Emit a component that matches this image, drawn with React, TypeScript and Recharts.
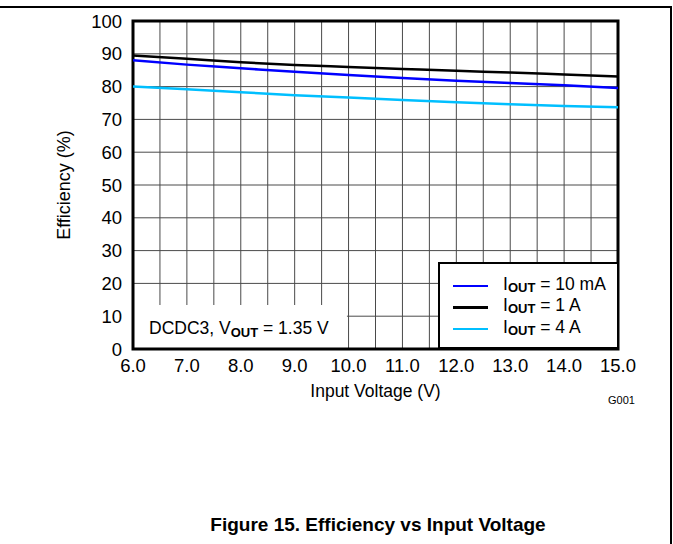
import React from 'react';
import { LineChart, Line, XAxis, YAxis, CartesianGrid, Legend, ReferenceArea } from 'recharts';

const voltages = [6, 7, 8, 9, 10, 11, 12, 13, 14, 15];
const eff10mA = [88.0, 86.7, 85.6, 84.5, 83.5, 82.6, 81.8, 81.1, 80.4, 79.6];
const eff1A = [89.5, 88.5, 87.4, 86.6, 86.0, 85.4, 84.8, 84.3, 83.7, 83.1];
const eff4A = [80.0, 79.2, 78.3, 77.4, 76.7, 75.9, 75.2, 74.6, 74.1, 73.7];

const xTicks = [6, 6.5, 7, 7.5, 8, 8.5, 9, 9.5, 10, 10.5, 11, 11.5, 12, 12.5, 13, 13.5, 14, 14.5, 15];
const yTicks = [0, 10, 20, 30, 40, 50, 60, 70, 80, 90, 100];

const seriesInfo = [
  { key: 'i10mA', value: '10 mA', color: '#0000ff' },
  { key: 'i1A', value: '1 A', color: '#000000' },
  { key: 'i4A', value: '4 A', color: '#00bfff' },
];

const data = voltages.map((v, i) => ({ v, i10mA: eff10mA[i], i1A: eff1A[i], i4A: eff4A[i] }));

const FONT = 'Arial, "Liberation Sans", sans-serif';

function LegendBox() {
  return (
    <div
      style={{
        width: 181,
        height: 87,
        boxSizing: 'border-box',
        border: '2px solid #000',
        background: '#fff',
        fontFamily: FONT,
        fontSize: 17.5,
        paddingTop: 11,
      }}
    >
      {seriesInfo.map((s) => (
        <div key={s.key} style={{ display: 'flex', alignItems: 'center', height: 21.5 }}>
          <div style={{ marginLeft: 13, width: 35, height: 2.5, background: s.color }} />
          <span style={{ marginLeft: 15, color: '#000', whiteSpace: 'nowrap', lineHeight: '20px' }}>
            I<sub style={{ fontSize: 13, fontWeight: 'bold', verticalAlign: -2 }}>OUT</sub> = {s.value}
          </span>
        </div>
      ))}
    </div>
  );
}

function NoteLabel(props: any) {
  const vb = props.viewBox || {};
  return (
    <text x={vb.x + 16} y={vb.y + vb.height - 15} fontFamily={FONT} fontSize={17.5} fill="#000">
      DCDC3, V
      <tspan fontSize={13} fontWeight="bold" dy={3}>OUT</tspan>
      <tspan dy={-3}> = 1.35 V</tspan>
    </text>
  );
}

export default function App() {
  return (
    <div style={{ position: 'absolute', left: 0, top: 0, width: 673, height: 544, overflow: 'hidden', background: '#fff' }}>
      <div
        style={{
          position: 'absolute',
          left: 0,
          top: 6,
          width: 672,
          height: 538,
          boxSizing: 'border-box',
          borderTop: '2px solid #000',
          borderRight: '2px solid #000',
        }}
      />
      <LineChart width={673} height={544} data={data} margin={{ top: 21, right: 55, left: 0, bottom: 0 }}>
        <CartesianGrid stroke="#4a4a4a" strokeWidth={1} />
        <XAxis
          dataKey="v"
          type="number"
          domain={[6, 15]}
          ticks={xTicks}
          interval={0}
          height={195}
          tickLine={false}
          axisLine={false}
          tickMargin={4}
          tickFormatter={(v: number) => (Number.isInteger(v) ? v.toFixed(1) : '')}
          tick={{ fill: '#000', fontSize: 18.5, fontFamily: FONT }}
          label={{ value: 'Input Voltage (V)', position: 'insideTop', offset: 36, fill: '#000', fontSize: 17.5, fontFamily: FONT }}
        />
        <YAxis
          type="number"
          domain={[0, 100]}
          ticks={yTicks}
          interval={0}
          width={133}
          tickLine={false}
          axisLine={false}
          tickMargin={5}
          tick={{ fill: '#000', fontSize: 18.5, fontFamily: FONT }}
          label={{
            value: 'Efficiency (%)',
            angle: -90,
            position: 'insideLeft',
            offset: 64,
            fill: '#000',
            fontSize: 18,
            fontFamily: FONT,
            style: { textAnchor: 'middle' },
          }}
        />
        <ReferenceArea x1={6} x2={9.97} y1={0} y2={13.4} fill="#fff" fillOpacity={1} stroke="none" label={<NoteLabel />} />
        {seriesInfo.map((s) => (
          <Line
            key={s.key}
            dataKey={s.key}
            type="monotone"
            stroke={s.color}
            strokeWidth={2.5}
            dot={false}
            isAnimationActive={false}
          />
        ))}
        <ReferenceArea x1={6} x2={15} y1={0} y2={100} fill="none" stroke="#000" strokeWidth={3} />
        <Legend
          layout="vertical"
          align="center"
          verticalAlign="middle"
          wrapperStyle={{ left: 438, top: 262, width: 181, height: 87 }}
          content={() => <LegendBox />}
        />
      </LineChart>
      <div style={{ position: 'absolute', left: 608, top: 394, fontFamily: FONT, fontSize: 11, color: '#000' }}>G001</div>
      <div
        style={{
          position: 'absolute',
          left: 0,
          width: 756,
          top: 514,
          textAlign: 'center',
          fontFamily: FONT,
          fontSize: 19,
          fontWeight: 'bold',
          color: '#000',
        }}
      >
        Figure 15. Efficiency vs Input Voltage
      </div>
    </div>
  );
}
